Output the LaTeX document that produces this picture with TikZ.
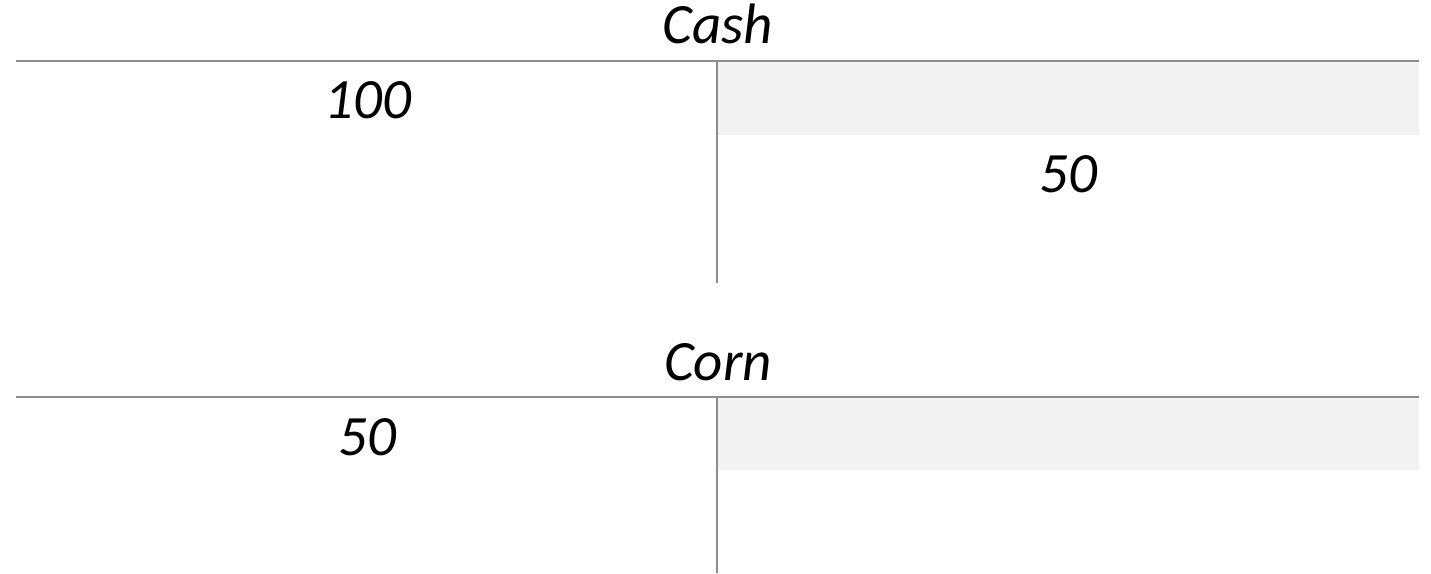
\documentclass[tikz,border=0pt]{standalone}
\usepackage{fontspec}
\setmainfont{Carlito}
\definecolor{rule}{HTML}{8C8C8C}
\definecolor{band}{HTML}{F2F2F2}
\begin{document}
\begin{tikzpicture}[x=1pt,y=-1pt,
  tline/.style={draw=rule,line width=1.8pt},
  bandfill/.style={fill=band,draw=none},
  lbl/.style={font=\fontsize{57}{60}\selectfont\itshape,anchor=base,inner sep=0pt}]
\useasboundingbox (0,0) rectangle (1431,573);
% Cash account
\fill[bandfill] (718,62) rectangle (1419,135);
\coordinate (c1l) at (16,61);
\coordinate (c1r) at (1419,61);
\coordinate (c1t) at (717,61);
\coordinate (c1b) at (717,283);
\draw[tline] (c1l) -- (c1r);
\draw[tline] (c1t) -- (c1b);
\node[lbl] (cash) at (718,43) {Cash};
\node[lbl] (d100) at (368,118) {100};
\node[lbl] (c50) at (1068,192) {50};
% Corn account
\fill[bandfill] (718,398) rectangle (1419,470);
\coordinate (c2l) at (16,397);
\coordinate (c2r) at (1419,397);
\coordinate (c2t) at (717,397);
\coordinate (c2b) at (717,573);
\draw[tline] (c2l) -- (c2r);
\draw[tline] (c2t) -- (c2b);
\node[lbl] (corn) at (718,380) {Corn};
\node[lbl] (d50) at (367,455) {50};
\end{tikzpicture}
\end{document}
